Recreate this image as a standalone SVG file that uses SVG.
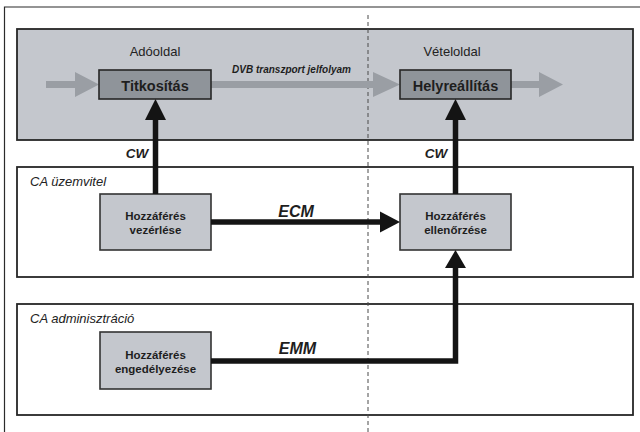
<svg xmlns="http://www.w3.org/2000/svg" width="640" height="432" viewBox="0 0 640 432">
  <style>
    .frame { fill: none; stroke: #2b2b2b; stroke-width: 1.2; }
    .panel { fill: #ffffff; stroke: #262626; stroke-width: 1.8; }
    .panel-grey { fill: #c4c7cd; stroke: #262626; stroke-width: 1.8; }
    .node-dark { fill: #8f949a; stroke: #262626; stroke-width: 1.6; }
    .node-light { fill: #c4c7cd; stroke: #333333; stroke-width: 1.6; }
    .side { font-family: "Liberation Sans", Arial, sans-serif; font-size: 13px; fill: #222; text-anchor: middle; }
    .zone { font-family: "Liberation Sans", Arial, sans-serif; font-size: 13px; font-style: italic; fill: #222; }
    .title { font-family: "Liberation Sans", Arial, sans-serif; font-size: 14.5px; font-weight: bold; fill: #1e1e1e; text-anchor: middle; }
    .label { font-family: "Liberation Sans", Arial, sans-serif; font-size: 11.5px; font-weight: bold; fill: #1e1e1e; text-anchor: middle; }
    .flow { font-family: "Liberation Sans", Arial, sans-serif; font-size: 10px; font-weight: bold; font-style: italic; fill: #1e1e1e; text-anchor: middle; }
    .cw { font-family: "Liberation Sans", Arial, sans-serif; font-size: 13.5px; font-weight: bold; font-style: italic; fill: #1e1e1e; text-anchor: middle; }
    .msg { font-family: "Liberation Sans", Arial, sans-serif; font-size: 16px; font-weight: bold; font-style: italic; fill: #1e1e1e; text-anchor: middle; }
    .stream { fill: #9a9ea4; }
    .wire { fill: none; stroke: #141414; stroke-width: 5.5; }
    .head { fill: #141414; }
    .divider { stroke: #4a4a4a; stroke-width: 1; stroke-dasharray: 4 3; }
  </style>

  <!-- page frame (open to the right and bottom) -->
  <path class="frame" d="M4.5 432 V7 H640"/>

  <!-- transport layer panel -->
  <g id="transport">
    <rect class="panel-grey" x="17" y="29" width="616" height="111"/>
    <text class="side" x="155" y="56">Adóoldal</text>
    <text class="side" x="452" y="56">Vételoldal</text>
  </g>

  <!-- CA operation panel -->
  <g id="ca-operation">
    <rect class="panel" x="17" y="167" width="616" height="110"/>
    <text class="zone" x="30" y="186">CA üzemvitel</text>
  </g>

  <!-- CA administration panel -->
  <g id="ca-administration">
    <rect class="panel" x="17" y="304" width="616" height="111"/>
    <text class="zone" x="30" y="323">CA adminisztráció</text>
  </g>

  <!-- sender / receiver divider -->
  <line class="divider" x1="368" y1="15" x2="368" y2="432"/>

  <!-- transport stream (wide grey arrows) -->
  <g id="stream">
    <path class="stream" d="M46 81 H75 V72 L99 84.5 L75 97 V88 H46 Z"/>
    <path class="stream" d="M211 81 H373 V72 L400 84.5 L373 97 V88 H211 Z"/>
    <path class="stream" d="M511 81 H539 V72 L563 84.5 L539 97 V88 H511 Z"/>
    <text class="flow" x="291.5" y="73">DVB transzport jelfolyam</text>
  </g>

  <g id="titkositas">
    <rect class="node-dark" x="99" y="70" width="112" height="29"/>
    <text class="title" x="155" y="91">Titkosítás</text>
  </g>

  <g id="helyreallitas">
    <rect class="node-dark" x="400" y="70" width="111" height="29"/>
    <text class="title" x="455.5" y="91">Helyreállítás</text>
  </g>

  <g id="vezerles">
    <rect class="node-light" x="100" y="194" width="111" height="56"/>
    <text class="label" x="155.5" y="220">Hozzáférés</text>
    <text class="label" x="155.5" y="234">vezérlése</text>
  </g>

  <g id="ellenorzes">
    <rect class="node-light" x="400" y="194" width="111" height="56"/>
    <text class="label" x="455.5" y="220">Hozzáférés</text>
    <text class="label" x="455.5" y="234">ellenőrzése</text>
  </g>

  <g id="engedelyezes">
    <rect class="node-light" x="100" y="332" width="111" height="57"/>
    <text class="label" x="155.5" y="358.5">Hozzáférés</text>
    <text class="label" x="155.5" y="372.5">engedélyezése</text>
  </g>

  <!-- control connectors -->
  <g id="connectors">
    <!-- CW: access control to scrambler -->
    <path class="wire" d="M155.5 194 V118"/>
    <path class="head" d="M155.5 99 L166 120 H145 Z"/>
    <text class="cw" x="137" y="158">CW</text>

    <!-- CW: access check to descrambler -->
    <path class="wire" d="M455.5 194 V118"/>
    <path class="head" d="M455.5 99 L466 120 H445 Z"/>
    <text class="cw" x="436" y="158">CW</text>

    <!-- ECM -->
    <path class="wire" d="M211 222 H382"/>
    <path class="head" d="M400 222 L380 211.5 V232.5 Z"/>
    <text class="msg" x="296" y="217">ECM</text>

    <!-- EMM -->
    <path class="wire" d="M211 361 H455.5 V266"/>
    <path class="head" d="M455.5 250 L466 268 H445 Z"/>
    <text class="msg" x="297.5" y="354">EMM</text>
  </g>
</svg>
